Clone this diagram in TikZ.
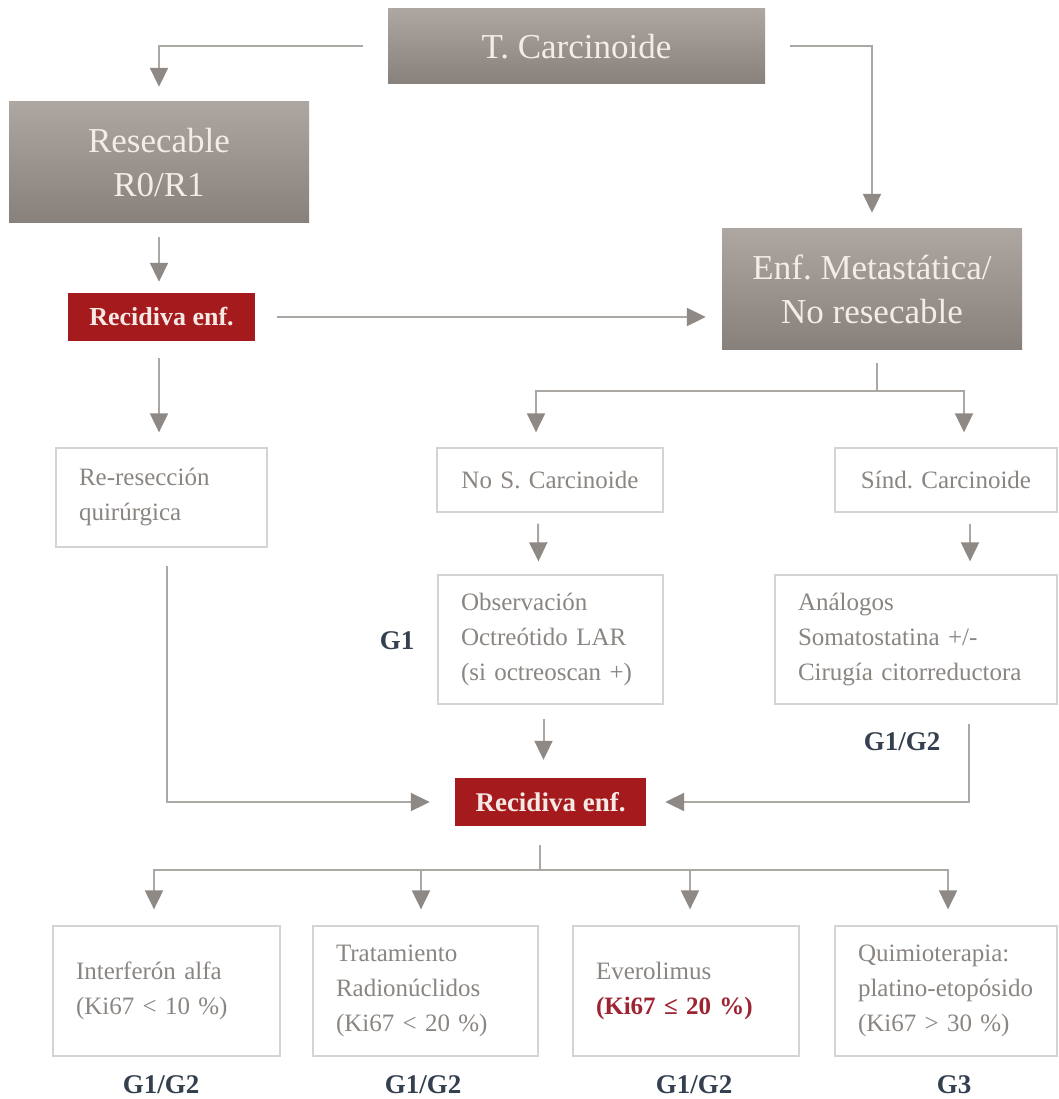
\documentclass[tikz,border=0pt]{standalone}
\usepackage{fontspec}
\setmainfont{Liberation Serif}
\usetikzlibrary{arrows.meta,calc}
\definecolor{grtop}{HTML}{AEA7A1}
\definecolor{grbot}{HTML}{88807A}
\definecolor{grtext}{HTML}{F2EDE8}
\definecolor{redc}{HTML}{A51B1D}
\definecolor{redtext}{HTML}{F6E8E4}
\definecolor{boxline}{HTML}{D6D4D2}
\definecolor{wtext}{HTML}{8A8581}
\definecolor{navy}{HTML}{34404F}
\definecolor{linec}{HTML}{ABA7A3}
\definecolor{tipc}{HTML}{8E8984}
\definecolor{kired}{HTML}{9E2432}
\newcommand\myfs[2]{\fontsize{#1}{#2}\selectfont}
\frenchspacing
\tikzset{
  graybox/.style={top color=grtop, bottom color=grbot, draw=none, text=grtext,
    font=\myfs{35}{44}, align=center, inner sep=0pt},
  redbox/.style={fill=redc, draw=none, text=redtext, align=center, inner sep=0pt},
  wbox/.style={draw=boxline, line width=1.3pt, fill=white, text=wtext,
    font=\myfs{25}{35}, inner ysep=0pt, inner xsep=23pt},
  glabel/.style={text=navy, font=\myfs{27}{30}\bfseries, inner sep=0pt},
  conn/.style={draw=linec, line width=2pt},
  arr/.style={conn, -{Triangle[width=18pt,length=19pt,color=tipc]}},
}
\begin{document}
\begin{tikzpicture}[x=1pt,y=-1pt]
\useasboundingbox (0,0) rectangle (1058,1099);

% gray boxes
\node[graybox, minimum width=377pt, minimum height=75pt] (tc) at (576.5,46.5) {T. Carcinoide};
\node[graybox, minimum width=300pt, minimum height=121pt] (res) at (159,162.5) {Resecable\\R0/R1};
\node[graybox, minimum width=300pt, minimum height=120pt] (enf) at (872,289) {Enf. Metastática/\\No resecable};

% red boxes
\node[redbox, minimum width=187pt, minimum height=48pt, font=\myfs{26}{30}\bfseries] (rec1) at (161.5,317) {Recidiva enf.};
\node[redbox, minimum width=191pt, minimum height=48pt, font=\myfs{27}{30}\bfseries] (rec2) at (550.5,802) {Recidiva enf.};

% white boxes
\node[wbox, text width=165pt, align=left, minimum height=99pt] (rer) at (161.5,497.5) {Re-resección\\quirúrgica};
\node[wbox, text width=180pt, align=center, minimum height=64pt] (nos) at (550,480) {No S. Carcinoide};
\node[wbox, text width=176pt, align=center, minimum height=64pt] (sind) at (946,480) {Sínd. Carcinoide};
\node[wbox, text width=179pt, align=left, minimum height=129pt] (obs) at (550.5,639.5) {Observación\\Octreótido LAR\\(si octreoscan +)};
\node[wbox, text width=236pt, align=left, minimum height=129pt] (ana) at (916,639.5) {Análogos\\Somatostatina +/-\\Cirugía citorreductora};

\node[wbox, text width=181pt, align=left, minimum height=130pt] (b1) at (166.5,991) {Interferón alfa\\(Ki67 < 10 \%)};
\node[wbox, text width=179pt, align=left, minimum height=130pt] (b2) at (425.5,991) {Tratamiento\\Radionúclidos\\(Ki67 < 20 \%)};
\node[wbox, text width=180pt, align=left, minimum height=130pt] (b3) at (686,991) {Everolimus\\{\color{kired}\bfseries (Ki67 ≤ 20 \%)}};
\node[wbox, text width=176pt, align=left, minimum height=130pt] (b4) at (946,991) {Quimioterapia:\\platino-etopósido\\(Ki67 > 30 \%)};

% grade labels
\node[glabel] (g1) at (397,641) {G1};
\node[glabel] (g2) at (902,742) {G1/G2};
\node[glabel] (l1) at (161,1085) {G1/G2};
\node[glabel] (l2) at (423,1085) {G1/G2};
\node[glabel] (l3) at (694,1085) {G1/G2};
\node[glabel] (l4) at (954,1085) {G3};

% connectors
\draw[arr] ([xshift=-25pt]tc.west) -| ([yshift=15pt]res.north);
\draw[arr] ([xshift=25pt]tc.east) -| ([yshift=16pt]enf.north);
\draw[arr, shorten <=14pt, shorten >=11pt] (res.south) -- (res.south |- rec1.north);
\draw[arr, shorten <=22pt, shorten >=16pt] (rec1.east) -- (rec1.east -| enf.west);
\draw[arr, shorten <=17pt, shorten >=15pt] ($(rec1.south)+(-2.5,0)$) -- ($(rec1.south |- rer.north)+(-2.5,0)$);

\coordinate (sp1) at (877,391);
\draw[conn] ($(enf.south)+(5,14)$) -- (sp1);
\draw[arr] (sp1) -| ($(nos.north)+(-14,-15)$);
\draw[arr] (sp1) -| ($(sind.north)+(18,-15)$);

\draw[arr] ($(nos.south)+(-12,11)$) -- ($(obs.north)+(-12,-13)$);
\draw[arr] ($(sind.south)+(24,11)$) -- ($(sind.south |- ana.north)+(24,-13)$);
\draw[arr] ($(obs.south)+(-7,14)$) -- ($(rec2.north)+(-7,-18)$);

\draw[arr] ($(rer.south)+(5.5,18)$) |- ($(rec2.west)+(-25,0)$);
\draw[arr] ($(ana.south)+(53,19)$) |- ($(rec2.east)+(19,0)$);

\coordinate (sp2) at (540,870);
\draw[conn] ($(rec2.south)+(-10.5,19)$) -- (sp2);
\draw[arr] (sp2) -| ($(b1.north)+(-12.5,-16)$);
\draw[arr] (sp2) -| ($(b2.north)+(-4.5,-16)$);
\draw[arr] (sp2) -| ($(b3.north)+(4,-16)$);
\draw[arr] (sp2) -| ($(b4.north)+(2,-16)$);
\end{tikzpicture}
\end{document}
